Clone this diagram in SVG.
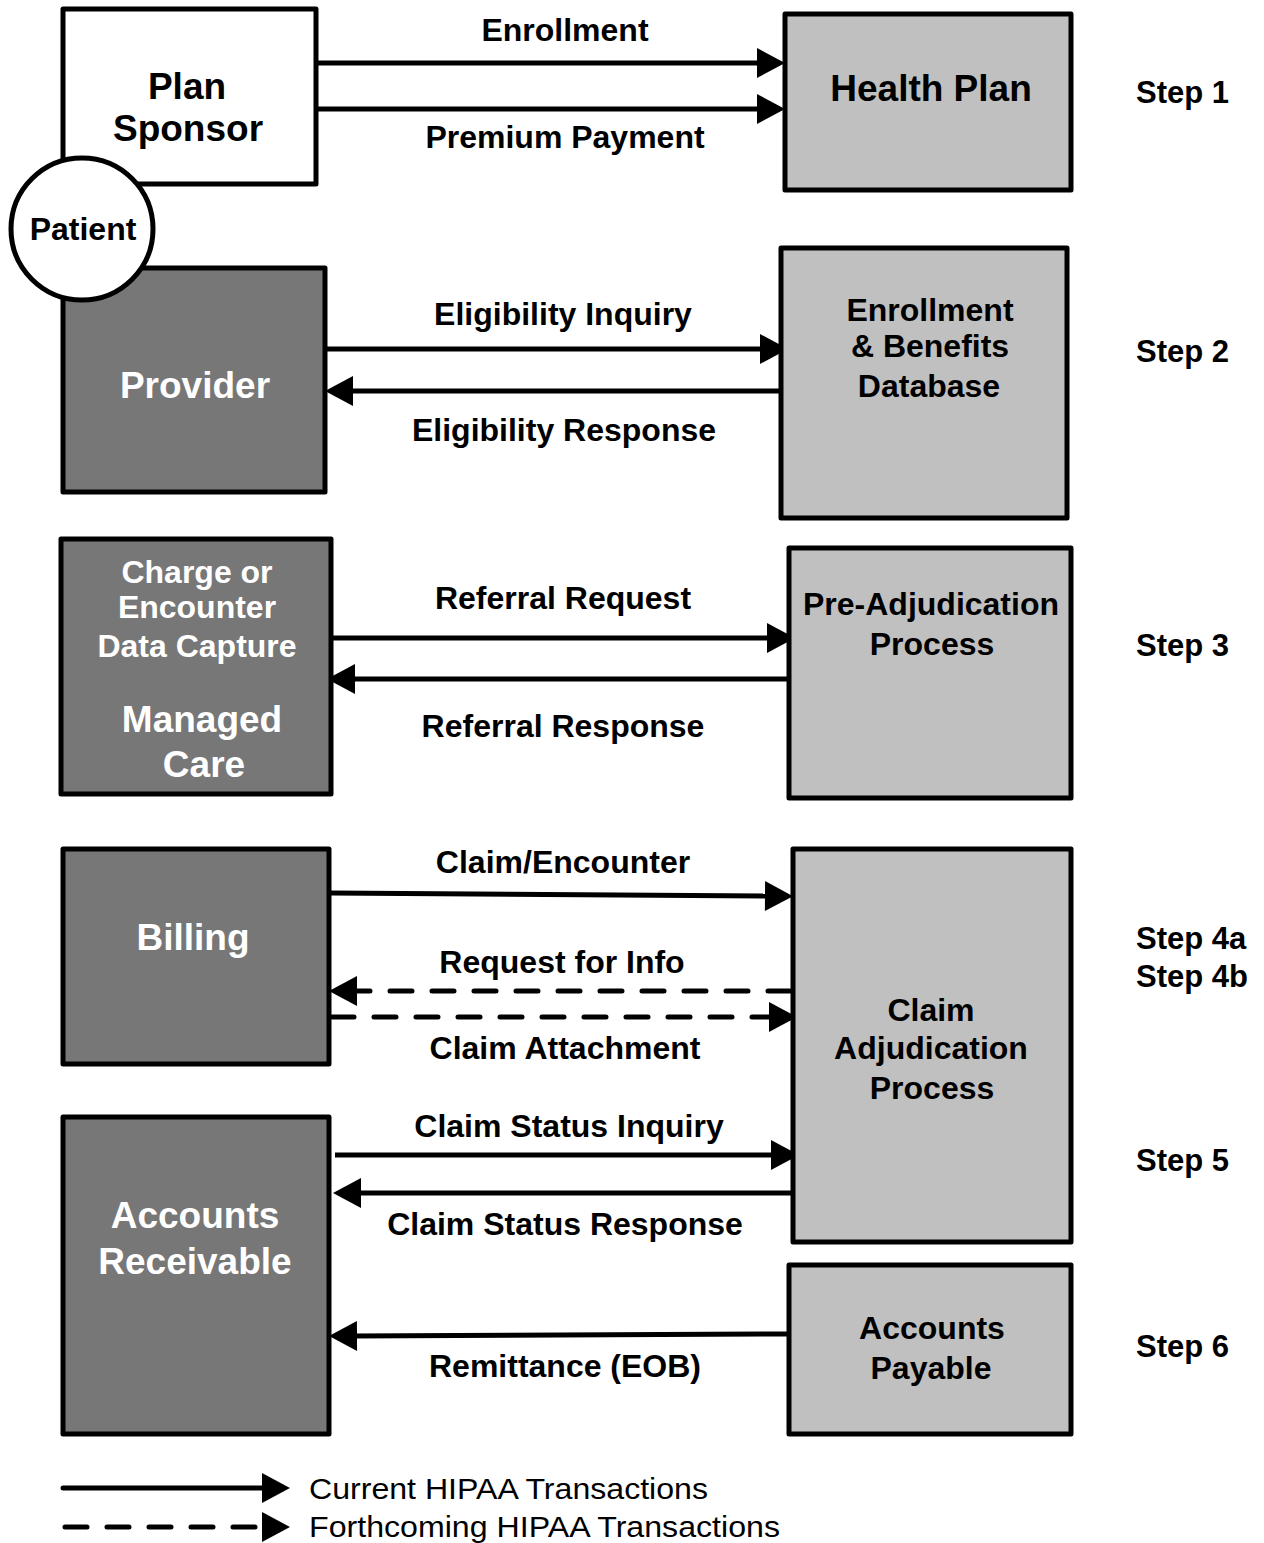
<svg xmlns="http://www.w3.org/2000/svg" width="1264" height="1543" viewBox="0 0 1264 1543">
<defs>
<marker id="ah" markerUnits="userSpaceOnUse" markerWidth="32" markerHeight="32" refX="4" refY="15" orient="auto" overflow="visible">
<path d="M0,0 L28,15 L0,30 z" fill="#000" stroke="none"/>
</marker>
<style>
.box{stroke:#000;stroke-width:5;stroke-linejoin:round}
.white{fill:#fff}
.light{fill:#c0c0c0}
.dark{fill:#777}
.t{font-family:"Liberation Sans",Arial,sans-serif;font-weight:bold;text-anchor:middle;fill:#000}
.tw{font-family:"Liberation Sans",Arial,sans-serif;font-weight:bold;text-anchor:middle;fill:#fff}
.s31{font-size:32px}
.s37{font-size:37px}
.step{font-family:"Liberation Sans",Arial,sans-serif;font-weight:bold;font-size:31px;fill:#000}
.lg{font-family:"Liberation Sans",Arial,sans-serif;font-size:30px;fill:#000}
.ar{stroke:#000;stroke-width:5;fill:none;marker-end:url(#ah)}
.da{stroke:#000;stroke-width:5;fill:none;stroke-dasharray:22 20;stroke-linecap:round;marker-end:url(#ah)}
</style>
</defs>
<rect width="1264" height="1543" fill="#fff"/>

<g id="connectors">
<line class="ar" x1="318" y1="63" x2="761" y2="63"/>
<line class="ar" x1="318" y1="109" x2="761" y2="109"/>
<line class="ar" x1="325" y1="349" x2="764" y2="349"/>
<line class="ar" x1="788" y1="391" x2="349" y2="391"/>
<line class="ar" x1="331" y1="638" x2="771" y2="638"/>
<line class="ar" x1="789" y1="679" x2="351" y2="679"/>
<line class="ar" x1="331" y1="893" x2="769" y2="896"/>
<line class="da" x1="790" y1="991" x2="353" y2="991"/>
<line class="da" x1="332" y1="1017" x2="773" y2="1017"/>
<line class="ar" x1="335" y1="1155" x2="775" y2="1155"/>
<line class="ar" x1="793" y1="1193" x2="357" y2="1193"/>
<line class="ar" x1="789" y1="1334" x2="353" y2="1336"/>
<text class="t s31" x="565" y="41">Enrollment</text>
<text class="t s31" x="565" y="148">Premium Payment</text>
<text class="t s31" x="563" y="325">Eligibility Inquiry</text>
<text class="t s31" x="564" y="441">Eligibility Response</text>
<text class="t s31" x="563" y="609">Referral Request</text>
<text class="t s31" x="563" y="737">Referral Response</text>
<text class="t s31" x="563" y="873">Claim/Encounter</text>
<text class="t s31" x="562" y="973">Request for Info</text>
<text class="t s31" x="565" y="1059">Claim Attachment</text>
<text class="t s31" x="569" y="1137">Claim Status Inquiry</text>
<text class="t s31" x="565" y="1235">Claim Status Response</text>
<text class="t s31" x="565" y="1377">Remittance (EOB)</text>
</g>

<g id="plan-sponsor">
<rect class="box white" x="63" y="9" width="253" height="175"/>
<text class="t s37" x="187" y="99">Plan</text>
<text class="t s37" x="188" y="141">Sponsor</text>
</g>

<g id="health-plan">
<rect class="box light" x="785" y="14" width="286" height="176"/>
<text class="t s37" x="931" y="101">Health Plan</text>
</g>

<g id="provider">
<rect class="box dark" x="63" y="268" width="262" height="224"/>
<text class="tw s37" x="195" y="398">Provider</text>
</g>

<g id="patient">
<circle class="box white" cx="82" cy="229" r="71"/>
<text class="t s31" x="83" y="240">Patient</text>
</g>

<g id="enrollment-db">
<rect class="box light" x="781" y="248" width="286" height="270"/>
<text class="t s31" x="930" y="321">Enrollment</text>
<text class="t s31" x="930" y="357">&amp; Benefits</text>
<text class="t s31" x="929" y="397">Database</text>
</g>

<g id="managed-care">
<rect class="box dark" x="61" y="539" width="270" height="255"/>
<text class="tw s31" x="197" y="583">Charge or</text>
<text class="tw s31" x="197" y="618">Encounter</text>
<text class="tw s31" x="197" y="657">Data Capture</text>
<text class="tw s37" x="202" y="732">Managed</text>
<text class="tw s37" x="204" y="777">Care</text>
</g>

<g id="pre-adjudication">
<rect class="box light" x="789" y="548" width="282" height="250"/>
<text class="t s31" x="931" y="615">Pre-Adjudication</text>
<text class="t s31" x="932" y="655">Process</text>
</g>

<g id="billing">
<rect class="box dark" x="63" y="849" width="266" height="215"/>
<text class="tw s37" x="193" y="950">Billing</text>
</g>

<g id="claim-adjudication">
<rect class="box light" x="793" y="849" width="278" height="393"/>
<text class="t s31" x="931" y="1021">Claim</text>
<text class="t s31" x="931" y="1059">Adjudication</text>
<text class="t s31" x="932" y="1099">Process</text>
</g>

<g id="accounts-receivable">
<rect class="box dark" x="63" y="1117" width="266" height="317"/>
<text class="tw s37" x="195" y="1228">Accounts</text>
<text class="tw s37" x="195" y="1274">Receivable</text>
</g>

<g id="accounts-payable">
<rect class="box light" x="789" y="1265" width="282" height="169"/>
<text class="t s31" x="932" y="1339">Accounts</text>
<text class="t s31" x="931" y="1379">Payable</text>
</g>

<g id="steps">
<text class="step" x="1136" y="103">Step 1</text>
<text class="step" x="1136" y="362">Step 2</text>
<text class="step" x="1136" y="656">Step 3</text>
<text class="step" x="1136" y="949">Step 4a</text>
<text class="step" x="1136" y="987">Step 4b</text>
<text class="step" x="1136" y="1171">Step 5</text>
<text class="step" x="1136" y="1357">Step 6</text>
</g>

<g id="legend">
<line class="ar" x1="63" y1="1488" x2="266" y2="1488" stroke-linecap="round"/>
<line class="da" x1="65" y1="1527" x2="266" y2="1527"/>
<text class="lg" x="309" y="1499" textLength="399" lengthAdjust="spacingAndGlyphs">Current HIPAA Transactions</text>
<text class="lg" x="309" y="1537" textLength="471" lengthAdjust="spacingAndGlyphs">Forthcoming HIPAA Transactions</text>
</g>
</svg>
